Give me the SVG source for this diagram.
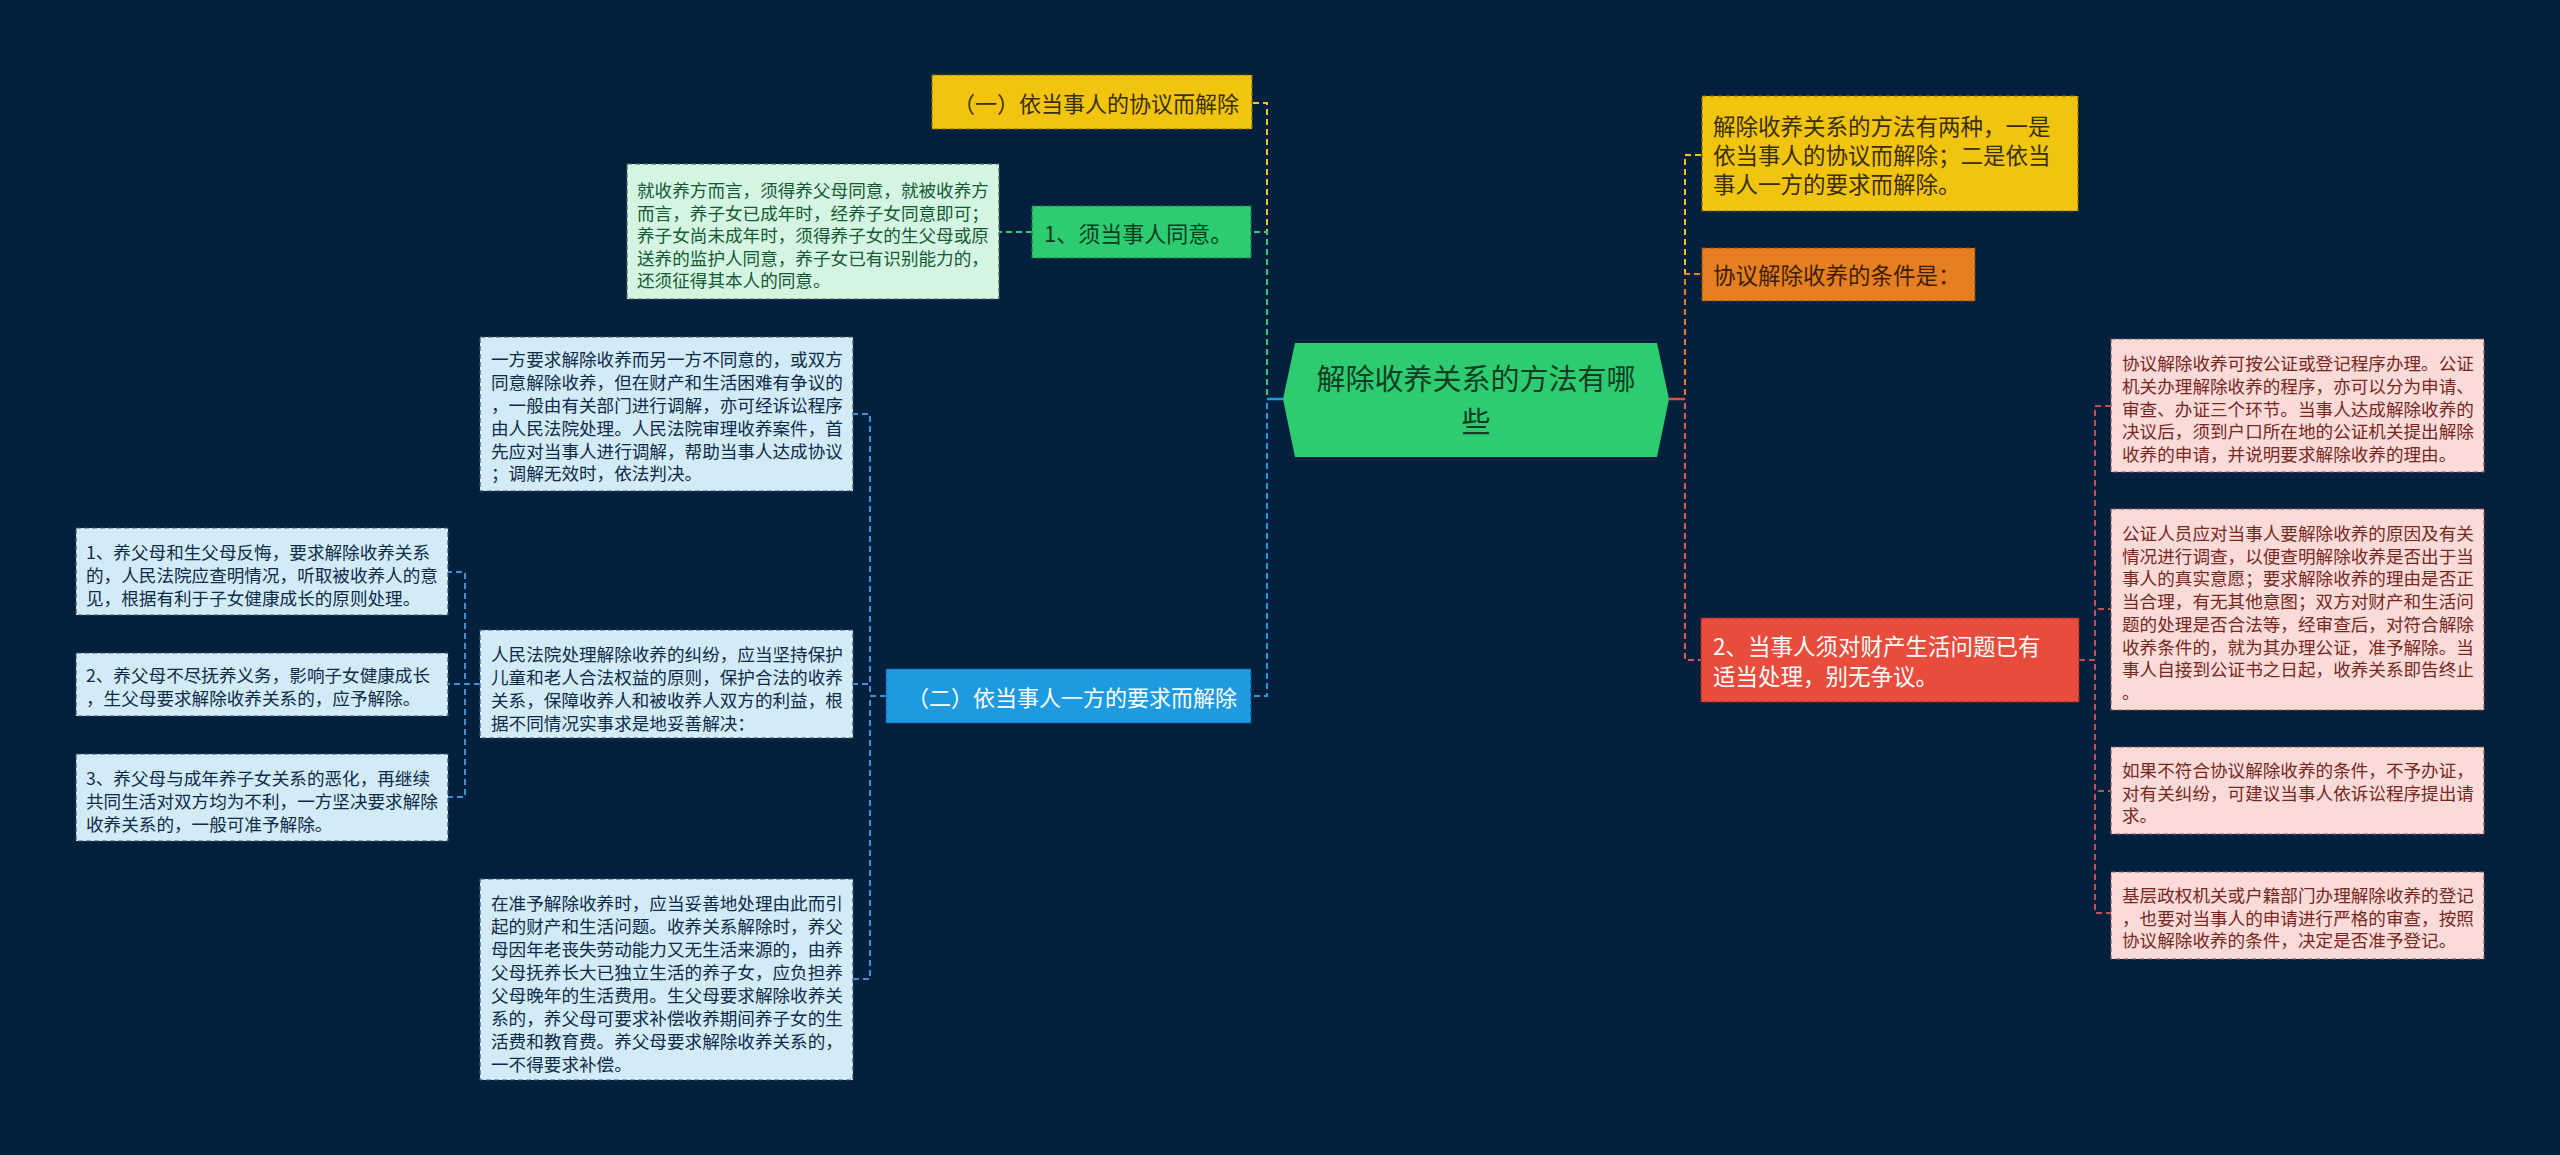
<svg xmlns="http://www.w3.org/2000/svg" width="2560" height="1155" viewBox="0 0 2560 1155">
<defs>
<style>
text{font-family:"Noto Sans CJK SC","Noto Sans",sans-serif;dominant-baseline:central}
.box{stroke-width:1.2;stroke-dasharray:5 3}
.s{font-size:17.6px}
.m{font-size:22px}
.c{fill:none;stroke-width:2;stroke-dasharray:6 4}
</style>
</defs>
<rect width="2560" height="1155" fill="#01203d"/>
<g id="connectors">
<path class="c" stroke="#f1c40f" d="M1283,399 H1267 V103 H1252"/>
<path class="c" stroke="#2ecc71" d="M1283,399 H1267 V232 H1251"/>
<path class="c" stroke="#1e9be0" d="M1283,399 H1267 V696 H1251"/>
<path fill="none" stroke="#1e9be0" stroke-width="2.5" d="M1283,399 H1267"/>
<path class="c" stroke="#2ecc71" d="M1032,232 H999"/>
<path class="c" stroke="#3b8fd4" d="M886,696 H870 V414 H853"/>
<path class="c" stroke="#3b8fd4" d="M886,696 H870 V684 H853"/>
<path class="c" stroke="#3b8fd4" d="M886,696 H870 V979 H853"/>
<path class="c" stroke="#3b8fd4" d="M480,684 H465 V572 H448"/>
<path class="c" stroke="#3b8fd4" d="M480,684 H448"/>
<path class="c" stroke="#3b8fd4" d="M480,684 H465 V797 H448"/>
<path class="c" stroke="#f1c40f" d="M1669,399 H1685 V155 H1702"/>
<path class="c" stroke="#e67e22" d="M1669,399 H1685 V274 H1702"/>
<path class="c" stroke="#e05a4e" d="M1669,399 H1685 V660 H1701"/>
<path fill="none" stroke="#e74c3c" stroke-width="2.5" d="M1669,399 H1685"/>
<path class="c" stroke="#c0504d" d="M2079,660 H2095 V406 H2111"/>
<path class="c" stroke="#c0504d" d="M2079,660 H2095 V609 H2111"/>
<path class="c" stroke="#c0504d" d="M2079,660 H2095 V791 H2111"/>
<path class="c" stroke="#c0504d" d="M2079,660 H2095 V913 H2111"/>
</g>
<g id="root">
<polygon points="1283,399 1295,343 1657,343 1669,399 1657,457 1295,457" fill="#2ecc71"/>
<text text-anchor="middle" font-size="29" fill="#123d24"><tspan x="1476" y="377">解除收养关系的方法有哪</tspan><tspan x="1476" y="420">些</tspan></text>
</g>
<g id="n1">
<rect class="box" x="932" y="75" width="320" height="54" fill="#f1c40f" stroke="#8a6d00"/>
<text class="m" x="953" y="102" fill="#3a2f00">（一）依当事人的协议而解除</text>
</g>
<g id="n1a">
<rect class="box" x="1032" y="206" width="219" height="52" fill="#2ecc71" stroke="#187a40"/>
<text class="m" x="1044" y="232" fill="#0b3d1f">1、须当事人同意。</text>
</g>
<g id="n1a1">
<rect class="box" x="627" y="164" width="372" height="135" fill="#d5f5e3" stroke="#4a6a58"/>
<text class="s" fill="#145a32"><tspan x="637" y="189">就收养方而言，须得养父母同意，就被收养方</tspan><tspan x="637" y="211.5">而言，养子女已成年时，经养子女同意即可；</tspan><tspan x="637" y="234">养子女尚未成年时，须得养子女的生父母或原</tspan><tspan x="637" y="256.5">送养的监护人同意，养子女已有识别能力的，</tspan><tspan x="637" y="279">还须征得其本人的同意。</tspan></text>
</g>
<g id="n2">
<rect class="box" x="886" y="669" width="365" height="54" fill="#1e9be0" stroke="#0c5a8a"/>
<text class="m" x="907" y="696" fill="#ffffff">（二）依当事人一方的要求而解除</text>
</g>
<g id="n2a">
<rect class="box" x="480" y="337" width="373" height="154" fill="#d3eaf7" stroke="#3c5468"/>
<text class="s" fill="#0d2c4a"><tspan x="491" y="358">一方要求解除收养而另一方不同意的，或双方</tspan><tspan x="491" y="381">同意解除收养，但在财产和生活困难有争议的</tspan><tspan x="491" y="404">，一般由有关部门进行调解，亦可经诉讼程序</tspan><tspan x="491" y="427">由人民法院处理。人民法院审理收养案件，首</tspan><tspan x="491" y="450">先应对当事人进行调解，帮助当事人达成协议</tspan><tspan x="491" y="472">；调解无效时，依法判决。</tspan></text>
</g>
<g id="n2b">
<rect class="box" x="480" y="630" width="373" height="108" fill="#d3eaf7" stroke="#3c5468"/>
<text class="s" fill="#0d2c4a"><tspan x="491" y="653">人民法院处理解除收养的纠纷，应当坚持保护</tspan><tspan x="491" y="676">儿童和老人合法权益的原则，保护合法的收养</tspan><tspan x="491" y="699">关系，保障收养人和被收养人双方的利益，根</tspan><tspan x="491" y="722">据不同情况实事求是地妥善解决：</tspan></text>
</g>
<g id="n2c">
<rect class="box" x="480" y="879" width="373" height="201" fill="#d3eaf7" stroke="#3c5468"/>
<text class="s" fill="#0d2c4a"><tspan x="491" y="902">在准予解除收养时，应当妥善地处理由此而引</tspan><tspan x="491" y="925">起的财产和生活问题。收养关系解除时，养父</tspan><tspan x="491" y="948">母因年老丧失劳动能力又无生活来源的，由养</tspan><tspan x="491" y="971">父母抚养长大已独立生活的养子女，应负担养</tspan><tspan x="491" y="994">父母晚年的生活费用。生父母要求解除收养关</tspan><tspan x="491" y="1017">系的，养父母可要求补偿收养期间养子女的生</tspan><tspan x="491" y="1040">活费和教育费。养父母要求解除收养关系的，</tspan><tspan x="491" y="1063">一不得要求补偿。</tspan></text>
</g>
<g id="n2b1">
<rect class="box" x="76" y="528" width="372" height="87" fill="#d3eaf7" stroke="#3c5468"/>
<text class="s" fill="#0d2c4a"><tspan x="86" y="551">1、养父母和生父母反悔，要求解除收养关系</tspan><tspan x="86" y="574">的，人民法院应查明情况，听取被收养人的意</tspan><tspan x="86" y="597">见，根据有利于子女健康成长的原则处理。</tspan></text>
</g>
<g id="n2b2">
<rect class="box" x="76" y="653" width="372" height="63" fill="#d3eaf7" stroke="#3c5468"/>
<text class="s" fill="#0d2c4a"><tspan x="86" y="674">2、养父母不尽抚养义务，影响子女健康成长</tspan><tspan x="86" y="697">，生父母要求解除收养关系的，应予解除。</tspan></text>
</g>
<g id="n2b3">
<rect class="box" x="76" y="754" width="372" height="87" fill="#d3eaf7" stroke="#3c5468"/>
<text class="s" fill="#0d2c4a"><tspan x="86" y="777">3、养父母与成年养子女关系的恶化，再继续</tspan><tspan x="86" y="800">共同生活对双方均为不利，一方坚决要求解除</tspan><tspan x="86" y="823">收养关系的，一般可准予解除。</tspan></text>
</g>
<g id="r1">
<rect class="box" x="1702" y="96" width="376" height="115" fill="#f1c40f" stroke="#8a6d00"/>
<text fill="#3a2f00" font-size="22.5"><tspan x="1713" y="125">解除收养关系的方法有两种，一是</tspan><tspan x="1713" y="154">依当事人的协议而解除；二是依当</tspan><tspan x="1713" y="183">事人一方的要求而解除。</tspan></text>
</g>
<g id="r2">
<rect class="box" x="1702" y="248" width="273" height="53" fill="#e67e22" stroke="#8a4a10"/>
<text fill="#3d1f00" font-size="22.5" x="1713" y="274">协议解除收养的条件是：</text>
</g>
<g id="r3">
<rect class="box" x="1701" y="618" width="378" height="84" fill="#e74c3c" stroke="#8a2a20"/>
<text fill="#ffffff" font-size="22.5"><tspan x="1713" y="645">2、当事人须对财产生活问题已有</tspan><tspan x="1713" y="675">适当处理，别无争议。</tspan></text>
</g>
<g id="r3a">
<rect class="box" x="2111" y="339" width="373" height="133" fill="#fadbd8" stroke="#8a5a58"/>
<text class="s" fill="#78281f"><tspan x="2122" y="362">协议解除收养可按公证或登记程序办理。公证</tspan><tspan x="2122" y="385">机关办理解除收养的程序，亦可以分为申请、</tspan><tspan x="2122" y="408">审查、办证三个环节。当事人达成解除收养的</tspan><tspan x="2122" y="430">决议后，须到户口所在地的公证机关提出解除</tspan><tspan x="2122" y="453">收养的申请，并说明要求解除收养的理由。</tspan></text>
</g>
<g id="r3b">
<rect class="box" x="2111" y="509" width="373" height="201" fill="#fadbd8" stroke="#8a5a58"/>
<text class="s" fill="#78281f"><tspan x="2122" y="532">公证人员应对当事人要解除收养的原因及有关</tspan><tspan x="2122" y="555">情况进行调查，以便查明解除收养是否出于当</tspan><tspan x="2122" y="577">事人的真实意愿；要求解除收养的理由是否正</tspan><tspan x="2122" y="600">当合理，有无其他意图；双方对财产和生活问</tspan><tspan x="2122" y="623">题的处理是否合法等，经审查后，对符合解除</tspan><tspan x="2122" y="646">收养条件的，就为其办理公证，准予解除。当</tspan><tspan x="2122" y="668">事人自接到公证书之日起，收养关系即告终止</tspan><tspan x="2122" y="691">。</tspan></text>
</g>
<g id="r3c">
<rect class="box" x="2111" y="747" width="373" height="87" fill="#fadbd8" stroke="#8a5a58"/>
<text class="s" fill="#78281f"><tspan x="2122" y="769">如果不符合协议解除收养的条件，不予办证，</tspan><tspan x="2122" y="792">对有关纠纷，可建议当事人依诉讼程序提出请</tspan><tspan x="2122" y="814">求。</tspan></text>
</g>
<g id="r3d">
<rect class="box" x="2111" y="872" width="373" height="87" fill="#fadbd8" stroke="#8a5a58"/>
<text class="s" fill="#78281f"><tspan x="2122" y="894">基层政权机关或户籍部门办理解除收养的登记</tspan><tspan x="2122" y="917">，也要对当事人的申请进行严格的审查，按照</tspan><tspan x="2122" y="939">协议解除收养的条件，决定是否准予登记。</tspan></text>
</g>
</svg>
